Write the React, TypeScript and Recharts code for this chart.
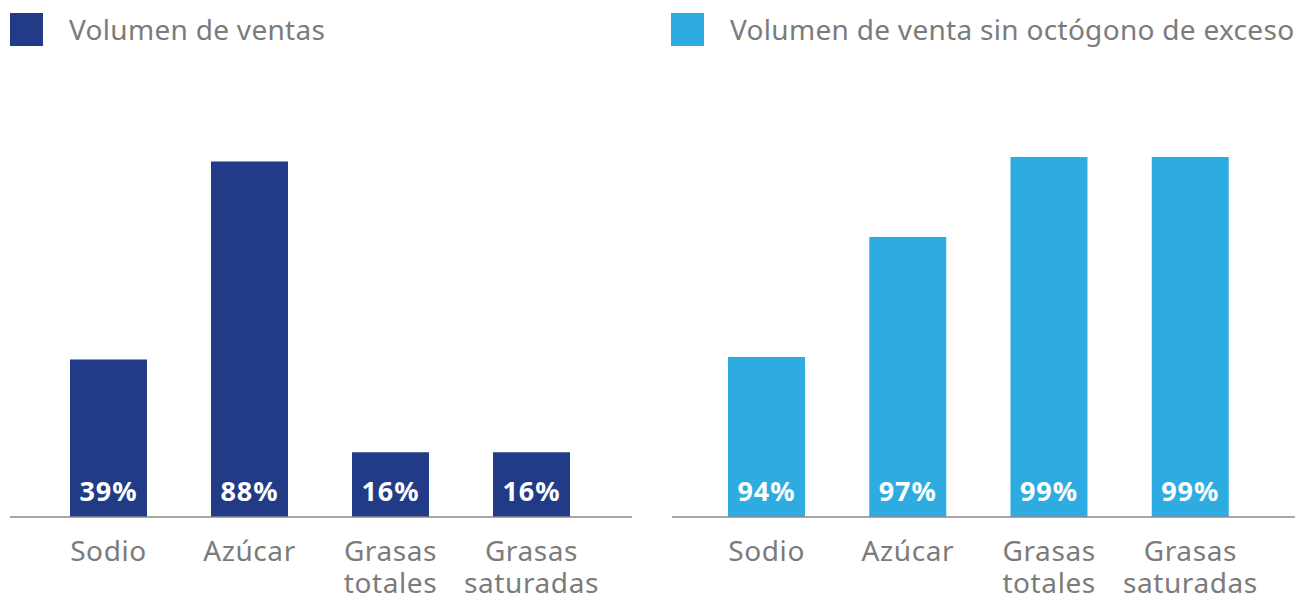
import { BarChart, Bar, XAxis, YAxis, LabelList } from "recharts";

const categories = ["Sodio", "Azúcar", "Grasas totales", "Grasas saturadas"];
const volumenVentas = [39, 88, 16, 16];
const volumenSinOctogono = [94, 97, 99, 99];

const seriesVentas = "Volumen de ventas";
const seriesSinOctogono = "Volumen de venta sin octógono de exceso";

const DARK = "#213b86";
const LIGHT = "#2eabe1";
const GREY = "#7b7b7b";
const FONT = "'Noto Sans', sans-serif";

const leftData = categories.map((name, i) => ({ name, value: volumenVentas[i] }));
const rightData = categories.map((name, i) => ({ name, value: volumenSinOctogono[i] }));

// etiqueta de categoria, partida en dos lineas si tiene dos palabras
const CategoryTick = (props: any) => {
  const { x, y, payload } = props;
  const lines = String(payload.value).split(" ");
  return (
    <text x={x} y={y} textAnchor="middle" fill={GREY} fontSize={28} letterSpacing={0.6} fontFamily={FONT}>
      {lines.map((line: string, i: number) => (
        <tspan key={i} x={x} dy={i === 0 ? 36 : 32}>
          {line}
        </tspan>
      ))}
    </text>
  );
};

const ValueLabel = (props: any) => {
  const { x, y, width, height, value } = props;
  return (
    <text
      x={x + width / 2}
      y={y + height - 16}
      textAnchor="middle"
      fill="#ffffff"
      fontSize={27}
      fontWeight={700}
      letterSpacing={1}
      fontFamily={FONT}
    >
      {value}%
    </text>
  );
};

const LegendItem = ({ left, color, label }: { left: number; color: string; label: string }) => (
  <div style={{ position: "absolute", left, top: 13, display: "flex", alignItems: "center" }}>
    <div style={{ width: 33, height: 33, background: color }} />
    <span
      style={{ marginLeft: 26, fontSize: 28, letterSpacing: 0.3, color: GREY, fontFamily: FONT, lineHeight: "33px" }}
    >
      {label}
    </span>
  </div>
);

export default function App() {
  return (
    <div style={{ position: "absolute", left: 0, top: 0, width: 1298, height: 594, background: "#fff" }}>
      <LegendItem left={10} color={DARK} label={seriesVentas} />
      <LegendItem left={671} color={LIGHT} label={seriesSinOctogono} />

      <div style={{ position: "absolute", left: 0, top: 0 }}>
        <BarChart width={650} height={594} data={leftData} margin={{ top: 117, right: 18, bottom: 0, left: 10 }}>
          <XAxis
            dataKey="name"
            height={77}
            axisLine={{ stroke: "#8a8a8a", strokeWidth: 1.5 }}
            tickLine={false}
            tick={<CategoryTick />}
            interval={0}
            padding={{ left: 28, right: 30 }}
          />
          <YAxis type="number" domain={[0, 99]} hide />
          <Bar dataKey="value" fill={DARK} barSize={77} isAnimationActive={false}>
            <LabelList dataKey="value" content={<ValueLabel />} />
          </Bar>
        </BarChart>
      </div>

      <div style={{ position: "absolute", left: 650, top: 0 }}>
        <BarChart width={648} height={594} data={rightData} margin={{ top: 117, right: 3, bottom: 0, left: 22 }}>
          <XAxis
            dataKey="name"
            height={77}
            axisLine={{ stroke: "#8a8a8a", strokeWidth: 1.5 }}
            tickLine={false}
            tick={<CategoryTick />}
            interval={0}
            padding={{ left: 24, right: 34 }}
          />
          <YAxis type="number" domain={[90, 100]} hide />
          <Bar dataKey="value" fill={LIGHT} barSize={77} isAnimationActive={false}>
            <LabelList dataKey="value" content={<ValueLabel />} />
          </Bar>
        </BarChart>
      </div>
    </div>
  );
}
